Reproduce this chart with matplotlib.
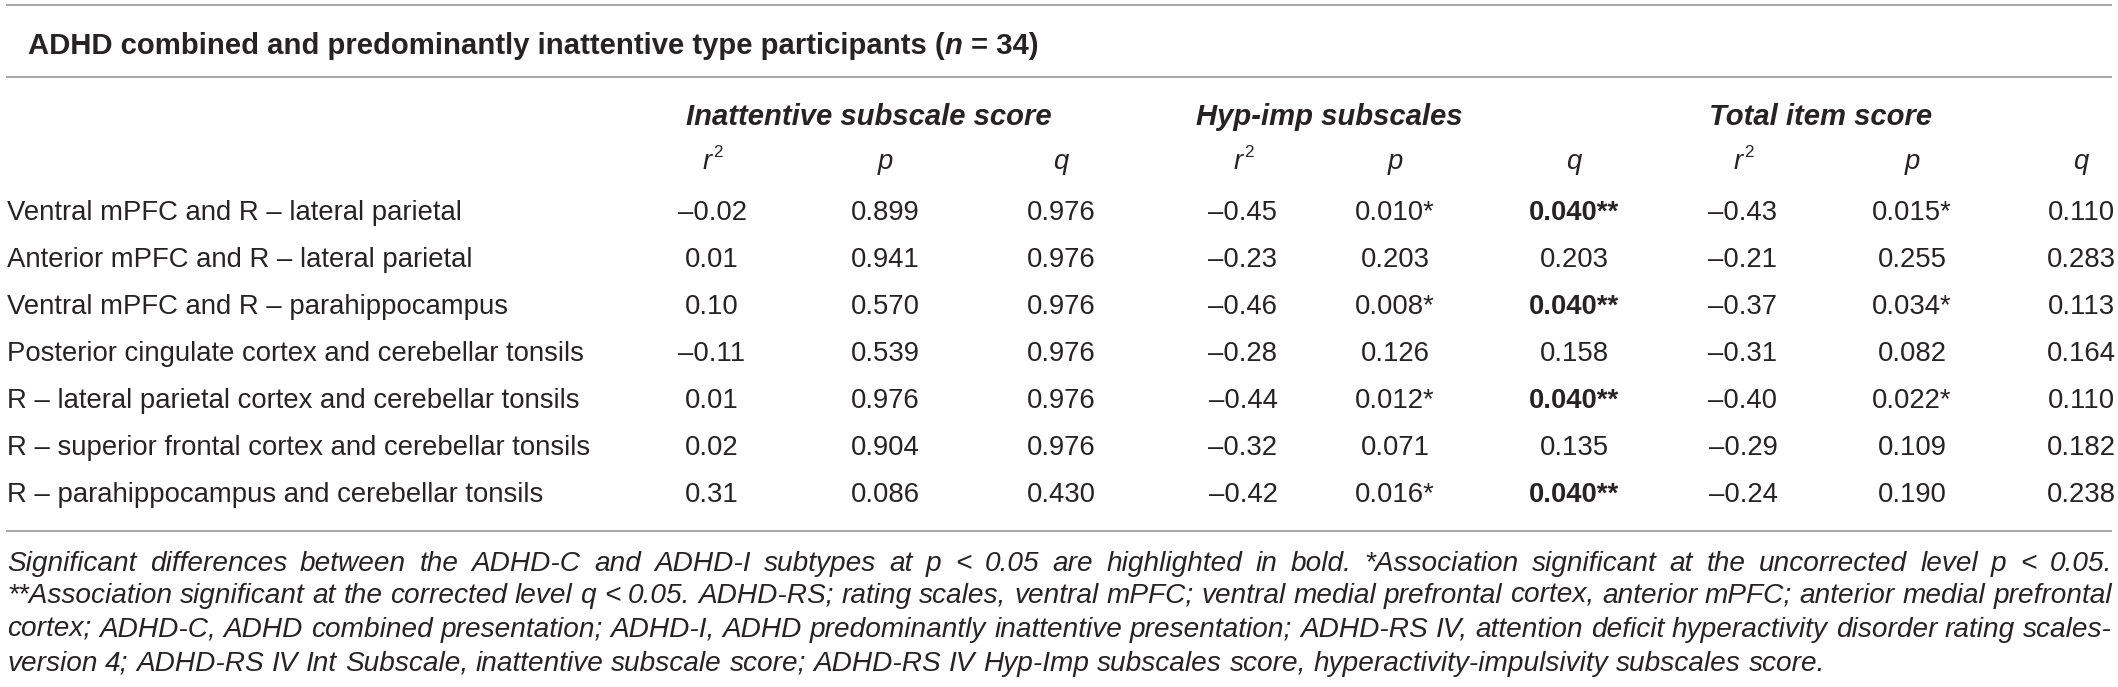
import matplotlib
matplotlib.use("Agg")
import matplotlib.pyplot as plt

# ---------------- data ----------------
title_main = "ADHD combined and predominantly inattentive type participants ("
title_n = "n"
title_tail = "= 34)"

group_labels = ["Inattentive subscale score", "Hyp-imp subscales", "Total item score"]
stat_labels = ["r", "p", "q"]

row_labels = [
    "Ventral mPFC and R \u2013 lateral parietal",
    "Anterior mPFC and R \u2013 lateral parietal",
    "Ventral mPFC and R \u2013 parahippocampus",
    "Posterior cingulate cortex and cerebellar tonsils",
    "R \u2013 lateral parietal cortex and cerebellar tonsils",
    "R \u2013 superior frontal cortex and cerebellar tonsils",
    "R \u2013 parahippocampus and cerebellar tonsils",
]
inatt_r2 = [-0.02, 0.01, 0.10, -0.11, 0.01, 0.02, 0.31]
inatt_p = [0.899, 0.941, 0.570, 0.539, 0.976, 0.904, 0.086]
inatt_q = [0.976, 0.976, 0.976, 0.976, 0.976, 0.976, 0.430]
hyp_r2 = [-0.45, -0.23, -0.46, -0.28, -0.44, -0.32, -0.42]
hyp_p = [0.010, 0.203, 0.008, 0.126, 0.012, 0.071, 0.016]
hyp_q = [0.040, 0.203, 0.040, 0.158, 0.040, 0.135, 0.040]
tot_r2 = [-0.43, -0.21, -0.37, -0.31, -0.40, -0.29, -0.24]
tot_p = [0.015, 0.255, 0.034, 0.082, 0.022, 0.109, 0.190]
tot_q = [0.110, 0.283, 0.113, 0.164, 0.110, 0.182, 0.238]

footnote_lines = [
    "Significant differences between the ADHD-C and ADHD-I subtypes at p < 0.05 are highlighted in bold. *Association significant at the uncorrected level p < 0.05.",
    "**Association significant at the corrected level q < 0.05. ADHD-RS; rating scales, ventral mPFC; ventral medial prefrontal cortex, anterior mPFC; anterior medial prefrontal",
    "cortex; ADHD-C, ADHD combined presentation; ADHD-I, ADHD predominantly inattentive presentation; ADHD-RS IV, attention deficit hyperactivity disorder rating scales-",
    "version 4; ADHD-RS IV Int Subscale, inattentive subscale score; ADHD-RS IV Hyp-Imp subscales score, hyperactivity-impulsivity subscales score.",
]

# ---------------- layout ----------------
W, H = 2118, 687
FONT = "Liberation Sans"
TXT = "#262324"
LINE = "#a6a6a6"

fig = plt.figure(figsize=(W / 100, H / 100), dpi=100)
ax = fig.add_axes([0, 0, 1, 1])
ax.set_xlim(0, W)
ax.set_ylim(H, 0)
ax.axis("off")
renderer = fig.canvas.get_renderer()


def tw(s, **kw):
    t = ax.text(0, 0, s, family=FONT, **kw)
    w = t.get_window_extent(renderer=renderer).width
    t.remove()
    return w


def space_w(**kw):
    return tw("a a", **kw) - tw("aa", **kw)


# calibrate body font so the first row label spans ~7 -> 465 px
ref = tw(row_labels[0], fontsize=10)
BODY = 10 * (465 - 7) / ref
HEAD = BODY * 1.06
LEFT = 7
RIGHT = 2112

# rules
for yy in (5, 77, 531):
    ax.plot([6, RIGHT], [yy, yy], color=LINE, lw=1.4, solid_capstyle="butt")

# title (segments)
x = 28
yb = 54
kb = dict(fontsize=HEAD, fontweight="bold")
ax.text(x, yb, title_main, va="baseline", ha="left", family=FONT, color=TXT, **kb)
x += tw(title_main, **kb)
kbi = dict(fontsize=HEAD, fontweight="bold", style="italic")
ax.text(x, yb, title_n, va="baseline", ha="left", family=FONT, color=TXT, **kbi)
x += tw(title_n, **kbi) + space_w(**kb)
ax.text(x, yb, title_tail, va="baseline", ha="left", family=FONT, color=TXT, **kb)

# columns
col_x = [712, 885, 1061, 1243, 1395, 1574, 1743, 1912, 2081]
group_left = [686, 1196, 1709]
for g, lab in enumerate(group_labels):
    ax.text(group_left[g], 125, lab, va="baseline", ha="left", family=FONT,
            fontsize=HEAD, fontweight="bold", style="italic", color=TXT)

sub_y = 169
for i, cx in enumerate(col_x):
    s = stat_labels[i % 3]
    if s == "r":
        kr = dict(fontsize=BODY, style="italic")
        k2 = dict(fontsize=BODY * 0.62)
        wr = tw("r", **kr)
        w2 = tw("2", **k2)
        x0 = cx - (wr + w2) / 2
        ax.text(x0, sub_y, "r", va="baseline", ha="left", family=FONT, color=TXT, **kr)
        ax.text(x0 + wr + 1, sub_y - BODY * 0.62, "2", va="baseline", ha="left",
                family=FONT, color=TXT, **k2)
    else:
        ax.text(cx, sub_y, s, va="baseline", ha="center", family=FONT,
                fontsize=BODY, style="italic", color=TXT)


def fmt_r(v):
    return f"{v:.2f}".replace("-", "\u2013")


def fmt_p(v):
    return f"{v:.3f}" + ("*" if v < 0.05 else "")


def fmt_q(v):
    return (f"{v:.3f}" + ("**" if v < 0.05 else "")), v < 0.05


row_y0 = 220
row_dy = 47
series = [(inatt_r2, inatt_p, inatt_q), (hyp_r2, hyp_p, hyp_q), (tot_r2, tot_p, tot_q)]
for r, lab in enumerate(row_labels):
    yb = row_y0 + r * row_dy
    ax.text(LEFT, yb, lab, va="baseline", ha="left", family=FONT,
            fontsize=BODY, color=TXT)
    for g, (r2s, ps, qs) in enumerate(series):
        ax.text(col_x[3 * g], yb, fmt_r(r2s[r]), va="baseline", ha="center",
                family=FONT, fontsize=BODY, color=TXT)
        ax.text(col_x[3 * g + 1], yb, fmt_p(ps[r]), va="baseline", ha="center",
                family=FONT, fontsize=BODY, color=TXT)
        qt, bold = fmt_q(qs[r])
        ax.text(col_x[3 * g + 2], yb, qt, va="baseline", ha="center",
                family=FONT, fontsize=BODY, fontweight="bold" if bold else "normal",
                color=TXT)

# footnote: justified italic lines
kf0 = dict(fontsize=10, style="italic")
nat = [sum(tw(w, **kf0) for w in ln.split(" ")) + (len(ln.split(" ")) - 1) * space_w(**kf0)
       for ln in footnote_lines[:3]]
FOOT = 10 * (RIGHT - LEFT) / max(nat)
kf = dict(fontsize=FOOT, style="italic")
foot_y = [571, 603, 637, 671]
sp = space_w(**kf)
for i, ln in enumerate(footnote_lines):
    words = ln.split(" ")
    widths = [tw(w, **kf) for w in words]
    if i < 3:
        gap = (RIGHT - LEFT - sum(widths)) / (len(words) - 1)
    else:
        gap = sp
    x = LEFT
    for w, wd in zip(words, widths):
        ax.text(x, foot_y[i], w, va="baseline", ha="left", family=FONT, color=TXT, **kf)
        x += wd + gap

fig.savefig("out.png", dpi=100)
